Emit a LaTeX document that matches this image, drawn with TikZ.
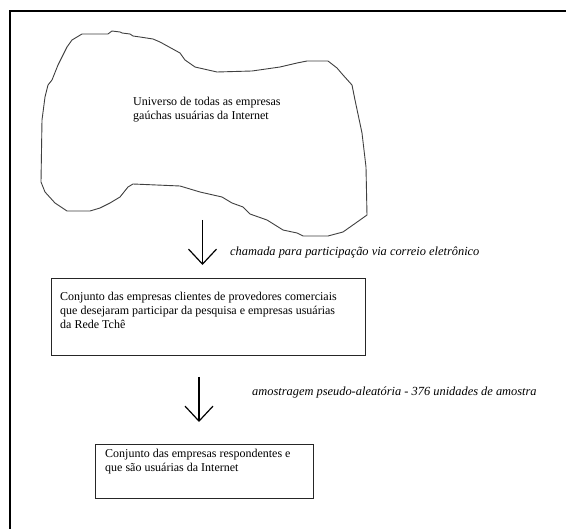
\documentclass[tikz,border=0pt]{standalone}
\usepackage{fontspec}
\setmainfont{Liberation Serif}
\usetikzlibrary{arrows.meta}
\begin{document}
\begin{tikzpicture}[x=1pt,y=-1pt,
  lbl/.style={anchor=base west, inner sep=0pt, align=left, font=\fontsize{12}{14}\selectfont},
  note/.style={anchor=base west, inner sep=0pt, font=\fontsize{12.4}{14}\selectfont\itshape},
  boxframe/.style={draw=black!85, line width=1pt, inner sep=0pt, anchor=north west},
  blobline/.style={draw=black!75, line width=0.9pt, line join=round},
  flowarrow/.style={line width=1.2pt, -{Straight Barb[length=15pt,width=28pt,line width=1.2pt]}}]
\useasboundingbox (0,0) rectangle (566,529);
\fill[white] (0,0) rectangle (566,529);
\draw[line width=2pt] (10,529) -- (10,11) -- (566,11);
% blob
\draw[blobline] (72,40) -- (82,34) -- (108,34) -- (112,31) -- (120,32) -- (122,33) -- (130,34) -- (133,36) -- (140,37) -- (153,39) -- (160,42) -- (180,53) -- (185,60) -- (195,67) -- (217,72) -- (252,71) -- (280,67) -- (297,63) -- (307,61) -- (328,61) -- (337,68) -- (343,75) -- (352,85) -- (355,100) -- (362,133) -- (366,167) -- (367,215) -- (360,220) -- (343,232) -- (328,236) -- (303,236) -- (297,233) -- (283,230) -- (267,220) -- (250,214) -- (243,207) -- (232,203) -- (222,197) -- (200,192) -- (180,186) -- (133,184) -- (128,187) -- (120,197) -- (110,203) -- (100,208) -- (90,211) -- (67,211) -- (55,203) -- (45,192) -- (41,182) -- (42,120) -- (45,97) -- (48,85) -- (52,80) -- (58,65) -- (67,47) -- cycle;
\node[lbl] (universe) at (133,120) {Universo de todas as empresas\\ga\'uchas usu\'arias da Internet};
% arrow 1
\coordinate (a1s) at (202.5,220);
\coordinate (a1e) at (202.5,265);
\draw[flowarrow] (a1s) -- (a1e);
\node[note] (call) at (230,256) {chamada para participação via correio eletrônico};
% box 2
\node[boxframe, minimum width=314pt, minimum height=77pt] (box2) at (51,278) {};
\node[lbl] (box2text) at (60,329) {Conjunto das empresas clientes de provedores comerciais\\que desejaram participar da pesquisa e empresas usuárias\\da Rede Tchê};
% arrow 2
\coordinate (a2s) at (199,377);
\coordinate (a2e) at (199,422);
\draw[flowarrow] (a2s) -- (a2e);
\node[note] (sample) at (252,396) {amostragem pseudo-aleatória - 376 unidades de amostra};
% box 3
\node[boxframe, minimum width=218pt, minimum height=54pt] (box3) at (95,444) {};
\node[lbl] (box3text) at (105,472) {Conjunto das empresas respondentes e\\que são usuárias da Internet};
\end{tikzpicture}
\end{document}
